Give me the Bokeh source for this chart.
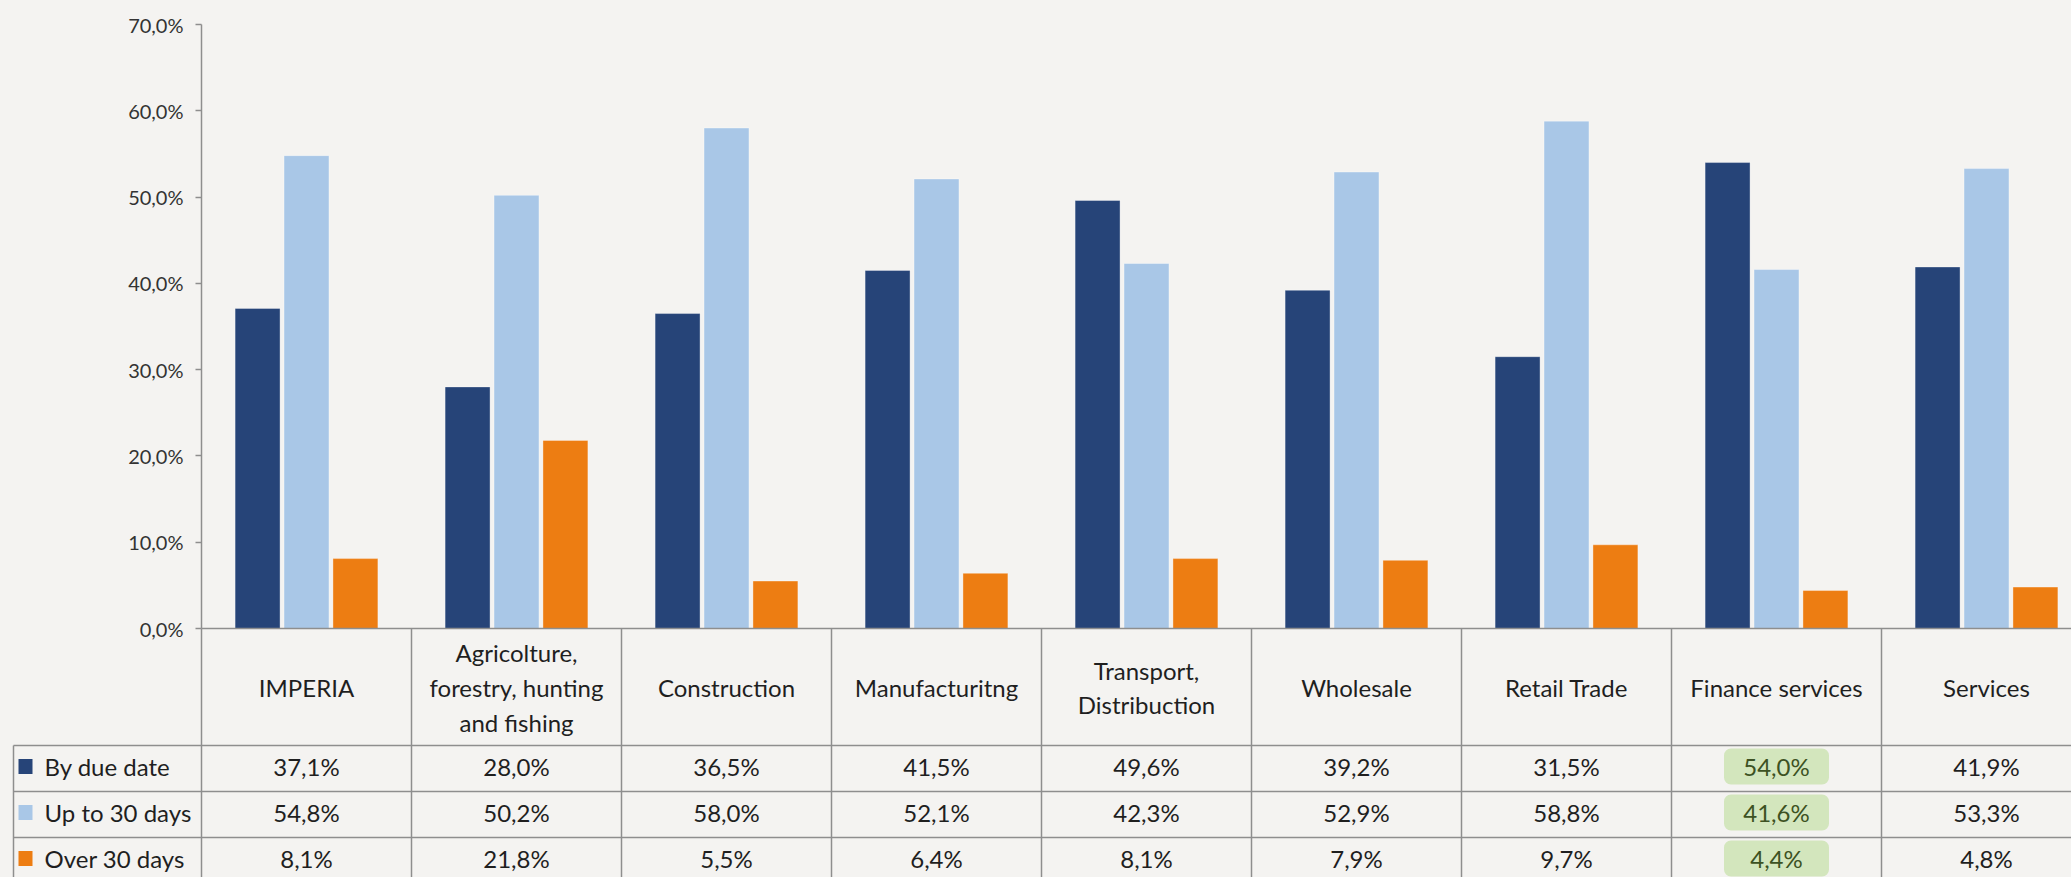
import numpy as np
from bokeh.plotting import figure
from bokeh.models import (ColumnDataSource, Range1d, FixedTicker, LinearAxis,
                          CustomJSTickFormatter)
from bokeh.transform import dodge
from bokeh.core.properties import value
from bokeh.embed import file_html
from bokeh.resources import INLINE

# ---------------- data ----------------
categories = ["IMPERIA", "Agricolture,\nforestry, hunting\nand fishing", "Construction",
              "Manufacturitng", "Transport,\nDistribuction", "Wholesale", "Retail Trade",
              "Finance services", "Services"]
series_names = ["By due date", "Up to 30 days", "Over 30 days"]
by_due_date = [37.1, 28.0, 36.5, 41.5, 49.6, 39.2, 31.5, 54.0, 41.9]
up_to_30_days = [54.8, 50.2, 58.0, 52.1, 42.3, 52.9, 58.8, 41.6, 53.3]
over_30_days = [8.1, 21.8, 5.5, 6.4, 8.1, 7.9, 9.7, 4.4, 4.8]
highlighted = ["Finance services"]
y_tick_values = [0, 10, 20, 30, 40, 50, 60, 70]

# ---------------- style / layout ----------------
BG = "#F4F3F1"
COLORS = ["#264478", "#A9C7E7", "#ED7D12"]
GRID = "#8e8e8e"
TXT = "#1f1f1f"
FONT = "Lato"
W, H = 2071, 877
AXIS_X = 201        # page x of the value axis
TOP_Y = 24          # page y of the top tick
BASE_Y = 628        # page y of 0 %
CAT_PX = 210        # px per category
ymax = max(y_tick_values)
px_per_pct = (BASE_Y - TOP_Y) / ymax

n = len(categories)
centers = np.arange(n) + 0.5
series = [by_due_date, up_to_30_days, over_30_days]

def fmt(v):
    return f"{v:.1f}".replace(".", ",") + "%"

def xd(px):
    return (px - AXIS_X) / CAT_PX

p = figure(width=W, height=H, output_backend="svg", toolbar_location=None,
           x_range=Range1d(xd(0), xd(W)),
           y_range=Range1d(-(H - BASE_Y) / px_per_pct, ymax + TOP_Y / px_per_pct),
           min_border_left=0, min_border_right=0, min_border_top=0,
           min_border_bottom=0, x_axis_location=None, y_axis_location=None,
           background_fill_color=BG, border_fill_color=BG)
p.outline_line_color = None
p.grid.visible = False
p.extra_y_ranges = {"tab": Range1d(start=H - BASE_Y, end=-BASE_Y)}

# ---------------- bars ----------------
src = ColumnDataSource(dict(x=centers, s0=by_due_date, s1=up_to_30_days, s2=over_30_days))
offsets = [-0.233, 0.0, 0.233]
for k in range(3):
    p.vbar(x=dodge("x", offsets[k], range=p.x_range), top=f"s{k}", bottom=0, width=0.214,
           source=src, fill_color=COLORS[k], line_color="#ffffff", line_alpha=0.35,
           line_width=1)

# ---------------- value axis ----------------
ya = LinearAxis(fixed_location=0, bounds=(min(y_tick_values), ymax))
ya.ticker = FixedTicker(ticks=y_tick_values)
ya.formatter = CustomJSTickFormatter(code="return tick.toFixed(1).replace('.', ',') + '%';")
ya.axis_line_color = GRID
ya.axis_line_width = 1.5
ya.major_tick_line_color = GRID
ya.major_tick_line_width = 1.5
ya.major_tick_in = 0
ya.major_tick_out = 6
ya.minor_tick_line_color = None
ya.major_label_text_font = FONT
ya.major_label_text_font_size = "20px"
ya.major_label_text_color = "#333333"
ya.major_label_standoff = 12
p.add_layout(ya, "left")

# ---------------- table ----------------
row_tops = [0, 117, 163, 209]
row_h = 46
tab_bottom = H - BASE_Y
legend_left = xd(13)

# highlight boxes
hx0, hx1, hy0, hy1 = [], [], [], []
for i, c in enumerate(categories):
    if c in highlighted:
        for r in range(3):
            hx0.append(i + 0.25); hx1.append(i + 0.75)
            hy0.append(row_tops[r + 1] + 3); hy1.append(row_tops[r + 1] + row_h - 7)
p.quad(left=hx0, right=hx1, top=hy0, bottom=hy1, fill_color="#D3E6BD",
       line_color=None, border_radius=7, y_range_name="tab")

# table lines
x0s, y0s, x1s, y1s = [0], [0], [xd(W) + 1], [0]
for r in range(1, 4):
    x0s.append(legend_left); y0s.append(row_tops[r]); x1s.append(xd(W) + 1); y1s.append(row_tops[r])
for i in range(0, n + 1):
    x0s.append(i); y0s.append(0); x1s.append(i); y1s.append(tab_bottom + 10)
x0s.append(legend_left); y0s.append(row_tops[1]); x1s.append(legend_left); y1s.append(tab_bottom + 10)
p.segment(x0=x0s, y0=y0s, x1=x1s, y1=y1s, line_color=GRID, line_width=1.5,
          y_range_name="tab")

# category header
p.text(x=centers, y=[59] * n, text=categories, text_align="center",
       text_baseline="middle", text_font=value(FONT), text_font_size="24px",
       text_color=TXT, text_line_height=1.2, y_range_name="tab")

# values
for r in range(3):
    yc = row_tops[r + 1] + 21
    cols = ["#3d5223" if categories[i] in highlighted else TXT for i in range(n)]
    p.text(x=centers, y=[yc] * n, text=[fmt(v) for v in series[r]], text_align="center",
           text_baseline="middle", text_font=value(FONT), text_font_size="24px",
           text_color=cols, y_range_name="tab")

# legend column
ly = [row_tops[r + 1] + 21 for r in range(3)]
p.rect(x=[xd(25)] * 3, y=ly, width=14, height=15, width_units="screen",
       height_units="screen", fill_color=COLORS, line_color=None, y_range_name="tab")
p.text(x=[xd(44)] * 3, y=ly, text=series_names, text_align="left",
       text_baseline="middle", text_font=value(FONT), text_font_size="24px",
       text_color=TXT, y_range_name="tab")

html = file_html(p, INLINE)
html = html.replace("<head>",
                    "<head><style>html,body{background:%s;overflow:hidden;}</style>" % BG, 1)
open("out.html", "w").write(html)
